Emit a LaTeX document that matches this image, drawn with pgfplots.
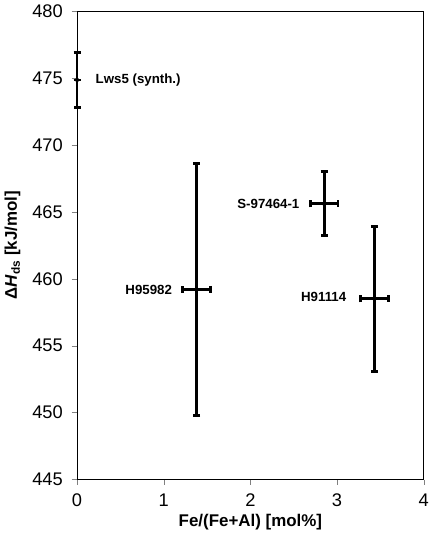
\documentclass[border=0pt]{standalone}
\usepackage{fontspec}
\setmainfont{Liberation Sans}
\usepackage{pgfplots}
\pgfplotsset{compat=1.18}

\begin{document}
\begin{tikzpicture}
\begin{axis}[
  scale only axis,
  width=256pt, height=346pt,
  xmin=0, xmax=4, ymin=445, ymax=480,
  xtick={0,1,2,3,4}, ytick={445,450,...,480},
  tick align=outside, xtick pos=left, ytick pos=left,
  major tick length=4pt,
  /pgf/number format/assume math mode=true,
  tick label style={font=\fontsize{13.5}{15}\selectfont},
  xticklabel style={yshift=-3pt},
  yticklabel style={xshift=-3pt},
  xlabel={\textbf{Fe/(Fe+Al) [mol\%]}},
  ylabel={\textbf{Δ\textit{H}\textsubscript{ds} [kJ/mol]}},
  label style={font=\fontsize{12.5}{14}\selectfont},
  xlabel style={yshift=1pt},
  ylabel style={yshift=2pt},
  axis line style={line width=0.6pt},
  clip=false,
]
\addplot[only marks, mark=diamond*, mark size=2pt, black,
  error bars/.cd,
    x dir=both, x explicit,
    y dir=both, y explicit,
    error bar style={line width=2.1pt},
    error mark options={rotate=90, mark size=2.6pt, line width=2.1pt}]
  table[x=x, y=y, x error=ex, y error=ey] {
  x     y      ex    ey
  0     474.85 0     2.05
  1.38  459.2  0.16  9.4
  2.85  465.6  0.16  2.4
  3.43  458.5  0.16  5.4
};
\node[anchor=west, font=\bfseries\fontsize{9.8}{11}\selectfont] at (axis cs:0.16,474.85) {Lws5 (synth.)};
\node[anchor=east, font=\bfseries\fontsize{9.8}{11}\selectfont] at (axis cs:1.15,459.2) {H95982};
\node[anchor=east, font=\bfseries\fontsize{9.8}{11}\selectfont] at (axis cs:2.62,465.6) {S-97464-1};
\node[anchor=east, font=\bfseries\fontsize{9.8}{11}\selectfont] at (axis cs:3.16,458.65) {H91114};
\end{axis}
\end{tikzpicture}
\end{document}
